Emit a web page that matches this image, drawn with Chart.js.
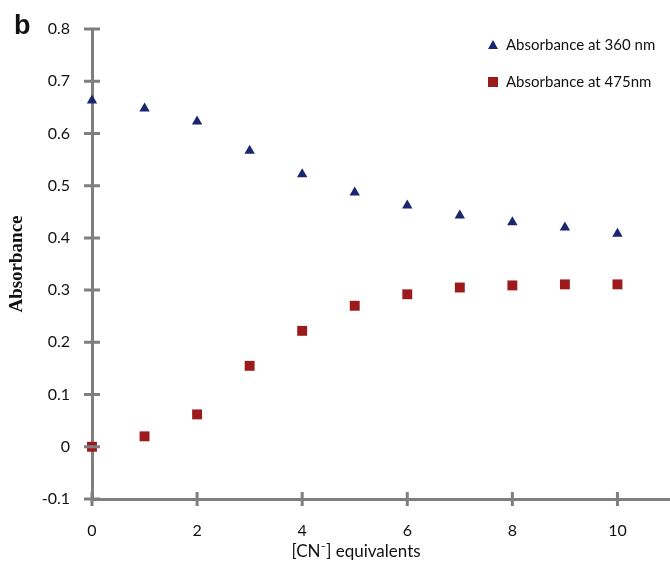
<!DOCTYPE html>
<html>
<head>
<meta charset="utf-8">
<script src="https://cdn.jsdelivr.net/npm/chart.js@4"></script>
<style>
  html, body { margin: 0; padding: 0; background: #fff; }
  #wrap { width: 670px; height: 572px; }
</style>
</head>
<body>
<div id="wrap"><canvas id="chart"></canvas></div>
<script>
const equivalents = [0, 1, 2, 3, 4, 5, 6, 7, 8, 9, 10];
const abs360 = [0.663, 0.648, 0.623, 0.567, 0.522, 0.487, 0.462, 0.443, 0.430, 0.420, 0.408];
const abs475 = [0.000, 0.020, 0.062, 0.155, 0.222, 0.270, 0.292, 0.305, 0.309, 0.311, 0.311];
const seriesNames = ['Absorbance at 360 nm', 'Absorbance at 475nm'];
const xTitle = '[CN\u207B] equivalents';

const axisGrey = '#7f7f7f';
const blue = '#1b2670';
const red = '#9c1a1c';
const font = 'Lato, "Open Sans", sans-serif';

// axes in the original have tick marks crossing the axis line
const crossTicks = {
  id: 'crossTicks',
  afterDraw(chart) {
    const { ctx, scales: { x, y } } = chart;
    ctx.save();
    ctx.strokeStyle = axisGrey;
    ctx.lineWidth = 3;
    ctx.beginPath();
    x.ticks.forEach(t => {
      const px = x.getPixelForValue(t.value);
      ctx.moveTo(px, y.bottom - 7);
      ctx.lineTo(px, y.bottom + 7);
    });
    y.ticks.forEach(t => {
      const py = y.getPixelForValue(t.value);
      ctx.moveTo(x.left - 8, py);
      ctx.lineTo(x.left + 8, py);
    });
    ctx.stroke();

    // panel letter
    ctx.fillStyle = '#111';
    ctx.font = 'bold 27px "Liberation Sans", Arial, sans-serif';
    ctx.textBaseline = 'alphabetic';
    ctx.fillText('b', 14, 34);

    // x axis title sits a bit left of the plot centre in the original
    ctx.font = '17px ' + font;
    ctx.textAlign = 'center';
    ctx.textBaseline = 'middle';
    ctx.fillText(xTitle, 356, 552);

    // legend in top right corner
    ctx.font = '15px ' + font;
    ctx.textAlign = 'left';
    chart.data.datasets.forEach((ds, i) => {
      const ly = 45 + i * 37;
      ctx.fillStyle = ds.pointBackgroundColor;
      if (ds.pointStyle === 'triangle') {
        ctx.beginPath();
        ctx.moveTo(493, ly - 5);
        ctx.lineTo(498, ly + 4);
        ctx.lineTo(488, ly + 4);
        ctx.closePath();
        ctx.fill();
      } else {
        ctx.fillRect(488, ly - 5, 10, 10);
      }
      ctx.fillStyle = '#111';
      ctx.fillText(ds.label, 506, ly);
    });
    ctx.restore();
  }
};

new Chart(document.getElementById('chart'), {
  type: 'scatter',
  data: {
    datasets: [
      {
        label: seriesNames[0],
        data: equivalents.map((v, i) => ({ x: v, y: abs360[i] })),
        pointStyle: 'triangle',
        pointRadius: 6,
        pointBackgroundColor: blue,
        pointBorderColor: blue,
        pointBorderWidth: 0,
      },
      {
        label: seriesNames[1],
        data: equivalents.map((v, i) => ({ x: v, y: abs475[i] })),
        pointStyle: 'rect',
        pointRadius: 7,
        pointBackgroundColor: red,
        pointBorderColor: red,
        pointBorderWidth: 0,
      },
    ],
  },
  plugins: [crossTicks],
  options: {
    responsive: true,
    maintainAspectRatio: false,
    animation: false,
    clip: false,
    layout: { autoPadding: false, padding: { top: 29, left: 0, right: 0, bottom: 0 } },
    plugins: {
      legend: { display: false },
      tooltip: { enabled: false },
    },
    scales: {
      x: {
        type: 'linear',
        min: 0,
        max: 11,
        afterFit: s => { s.height = 73; s.paddingLeft = 0; s.paddingRight = 0; },
        grid: { display: false },
        border: { color: axisGrey, width: 3 },
        ticks: {
          stepSize: 2,
          includeBounds: false,
          padding: 14,
          color: '#111',
          font: { family: font, size: 16 },
        },
      },
      y: {
        min: -0.1,
        max: 0.8,
        afterFit: s => { s.width = 92; },
        grid: { display: false },
        border: { color: axisGrey, width: 3 },
        ticks: {
          stepSize: 0.1,
          padding: 14,
          color: '#111',
          font: { family: font, size: 16 },
          callback: v => (Math.abs(v) < 1e-9 ? '0' : (+v.toFixed(1)).toString()),
        },
        title: {
          display: true,
          text: 'Absorbance',
          color: '#111',
          font: { family: '"Liberation Serif", "Times New Roman", serif', size: 19, weight: 'bold' },
          padding: { top: 6, bottom: 0 },
        },
      },
    },
  },
});
</script>
</body>
</html>
